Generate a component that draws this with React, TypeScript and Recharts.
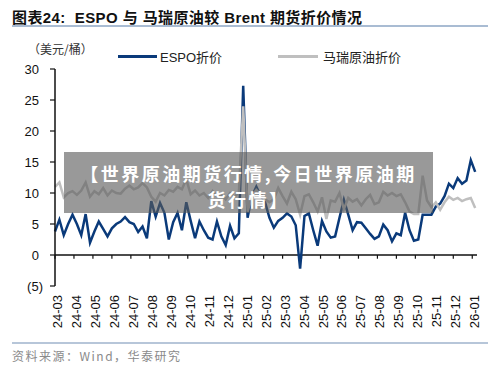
import { LineChart, Line, XAxis, YAxis, ReferenceLine } from "recharts";

// month labels on the x axis (one tick per month)
const months = [
  "24-03", "24-04", "24-05", "24-06", "24-07", "24-08", "24-09", "24-10",
  "24-11", "24-12", "25-01", "25-02", "25-03", "25-04", "25-05", "25-06",
  "25-07", "25-08", "25-09", "25-10", "25-11", "25-12", "26-01",
];

const yTicks = [-5, 0, 5, 10, 15, 20, 25, 30];

// weekly ESPO discount (USD/bbl)
const espo = [
  3.8, 5.7, 3.2, 5.0, 6.5, 5.0, 3.2, 6.6, 2.0, 3.8, 5.4, 4.2, 3.0, 4.3, 5.0, 5.4,
  6.1, 5.3, 5.0, 3.7, 4.6, 2.7, 8.7, 6.2, 8.4, 6.8, 2.5, 5.3, 6.8, 4.0, 8.5, 5.5,
  2.7, 5.4, 4.0, 2.8, 2.5, 5.4, 3.0, 1.6, 4.7, 2.7, 3.5, 27.3, 6.0, 9.5, 11.0, 9.5,
  8.5, 6.0, 4.4, 5.5, 6.0, 6.7, 6.2, 4.8, -2.2, 6.3, 6.7, 4.0, 1.5, 5.5, 3.8, 2.8,
  3.0, 6.0, 8.9, 6.5, 4.0, 5.3, 5.2, 4.3, 3.4, 2.6, 3.0, 4.9, 4.0, 2.2, 3.5, 3.2,
  6.8, 4.0, 2.3, 2.5, 6.5, 6.5, 6.5, 7.8, 8.3, 9.5, 11.5, 10.8, 12.4, 11.5, 12.0, 15.3,
  13.4,
];

// weekly Malaysian crude discount (USD/bbl)
const malay = [
  11.0, 11.7, 9.3, 10.0, 10.3, 9.7, 10.4, 11.7, 9.4, 10.3, 9.8, 10.8, 9.6, 10.4, 10.0, 9.9,
  10.7, 11.2, 10.6, 10.9, 11.6, 10.9, 9.4, 8.6, 10.0, 9.6, 10.5, 10.2, 11.0, 10.6, 12.2, 9.8,
  10.4, 9.6, 10.0, 9.2, 10.3, 9.5, 9.8, 9.0, 10.0, 9.4, 10.0, 24.0, 7.0, 9.5, 10.5, 9.8,
  9.0, 8.5, 9.0, 10.8, 9.5, 8.3, 10.2, 9.0, 6.5, 9.5, 9.8, 8.5, 7.0, 9.3, 5.8, 8.8,
  8.6, 10.0, 7.4, 9.2, 8.6, 9.0, 8.0, 9.0, 9.7, 8.2, 8.5, 10.2, 9.6, 10.0, 9.5, 9.8,
  8.5, 7.0, 6.6, 6.6, 12.8, 8.8, 7.7, 8.5, 7.3, 8.5, 9.4, 8.9, 9.2, 8.7, 9.0, 9.2,
  7.6,
];

// week i sits at i * 12/52 months after 24-03
const data = espo.map((v, i) => ({ m: (i * 12) / 52, espo: v, malay: malay[i] }));

const BLUE = "#0a3a7a";
const GREY = "#bfbfbf";
const FONT = "'Liberation Sans', Arial, 'Noto Sans CJK SC', sans-serif";

const XTick = (props: any) => {
  const { x, y, payload } = props;
  const ty = y + 9;
  return (
    <text
      x={x}
      y={ty}
      dy={7}
      transform={`rotate(-90, ${x}, ${ty})`}
      textAnchor="end"
      fontSize={13}
      fontFamily={FONT}
      fill="#111"
    >
      {months[payload.value]}
    </text>
  );
};

const YTick = (props: any) => {
  const { x, y, payload } = props;
  const v = payload.value;
  return (
    <text
      x={v < 0 ? x + 4 : x}
      y={y}
      dy={4.5}
      textAnchor="end"
      fontSize={13}
      fontFamily={FONT}
      fill="#111"
    >
      {v < 0 ? `(${-v})` : v}
    </text>
  );
};

const wmLine = {
  position: "absolute" as const,
  left: 0,
  width: 369,
  textAlign: "center" as const,
  fontSize: 18,
  lineHeight: "26px",
  letterSpacing: 2.5,
  whiteSpace: "nowrap" as const,
};

export default function App() {
  return (
    <div style={{ position: "absolute", left: 0, top: 0, width: 500, height: 368, background: "#fff", fontFamily: FONT }}>
      <div style={{ position: "absolute", left: 12, top: 6, fontSize: 15, fontWeight: 700, color: "#111", whiteSpace: "nowrap", letterSpacing: 0.4 }}>
        图表24:&nbsp;&nbsp;ESPO 与 马瑞原油较 Brent 期货折价情况
      </div>
      <div style={{ position: "absolute", left: 12, top: 25, width: 476, height: 2, background: "#a9bcd3" }} />

      <div style={{ position: "absolute", left: 28, top: 40, fontSize: 12, color: "#333", whiteSpace: "nowrap", fontFamily: "'Noto Sans CJK SC', sans-serif" }}>
        （美元/桶）
      </div>
      <div style={{ position: "absolute", left: 118, top: 55, width: 39, height: 3, background: BLUE }} />
      <div style={{ position: "absolute", left: 160, top: 47, fontSize: 13, color: "#222", whiteSpace: "nowrap" }}>ESPO折价</div>
      <div style={{ position: "absolute", left: 278, top: 55, width: 40, height: 3, background: GREY }} />
      <div style={{ position: "absolute", left: 323, top: 47, fontSize: 13, color: "#222", whiteSpace: "nowrap" }}>马瑞原油折价</div>

      <div style={{ position: "absolute", left: 0, top: 0 }}>
        <LineChart width={500} height={368} data={data} margin={{ top: 69, right: 23, bottom: 32, left: 0 }}>
          <XAxis
            dataKey="m"
            type="number"
            domain={[0, 22.25]}
            ticks={months.map((_, i) => i)}
            interval={0}
            axisLine={false}
            tickLine={false}
            tickSize={0}
            tickMargin={0}
            height={50}
            tick={<XTick />}
          />
          <YAxis
            type="number"
            domain={[-5, 30]}
            ticks={yTicks}
            interval={0}
            width={55}
            axisLine={{ stroke: "#111", strokeWidth: 1.5 }}
            tickLine={{ stroke: "#111", strokeWidth: 1.2 }}
            tickSize={5}
            tickMargin={11}
            tick={<YTick />}
          />
          <ReferenceLine y={0} stroke="#111" strokeWidth={1.5} ifOverflow="extendDomain" />
          {months.map((_, i) => (
            <ReferenceLine
              key={i}
              segment={[{ x: i, y: 0 }, { x: i, y: -0.6 }]}
              stroke="#111"
              strokeWidth={1.2}
            />
          ))}
          <Line type="linear" dataKey="espo" stroke={BLUE} strokeWidth={2.5} dot={false} isAnimationActive={false} />
          <Line type="linear" dataKey="malay" stroke={GREY} strokeWidth={2.5} dot={false} isAnimationActive={false} />
        </LineChart>
      </div>

      <div
        style={{
          position: "absolute",
          left: 64,
          top: 152,
          width: 369,
          height: 61,
          background: "rgba(90,90,90,0.62)",
          color: "#fff",
          fontWeight: 700,
          fontFamily: "'Noto Sans CJK SC', sans-serif",
        }}
      >
        <div style={{ ...wmLine, top: 8 }}>【世界原油期货行情,今日世界原油期</div>
        <div style={{ ...wmLine, top: 34 }}>货行情】</div>
      </div>

      <div style={{ position: "absolute", left: 12, top: 342, width: 476, height: 2, background: "#b7c6d9" }} />
      <div style={{ position: "absolute", left: 12, top: 347, fontSize: 12, letterSpacing: 1.5, color: "#8a8a8a", whiteSpace: "nowrap", fontFamily: "'Noto Sans CJK SC', sans-serif" }}>
        资料来源：Wind，华泰研究
      </div>
    </div>
  );
}
